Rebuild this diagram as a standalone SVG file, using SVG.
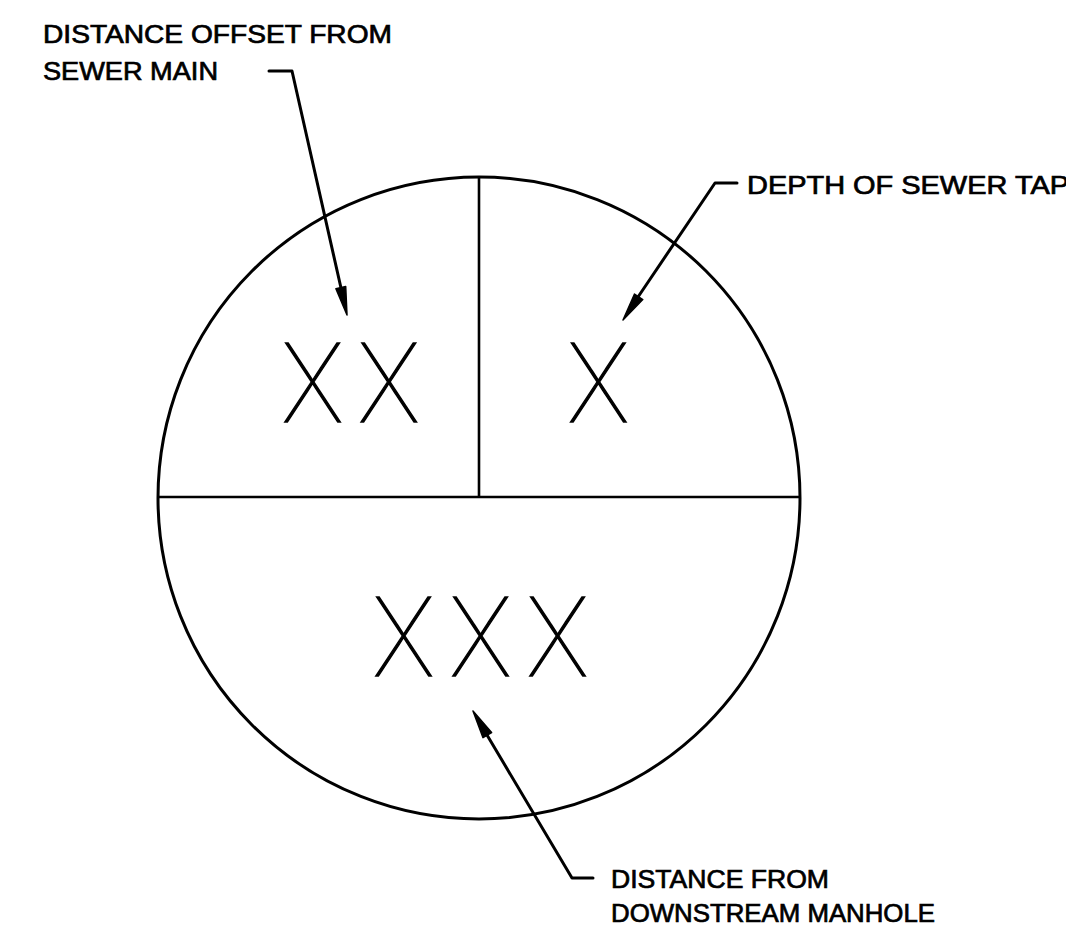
<svg xmlns="http://www.w3.org/2000/svg" width="1066" height="934" viewBox="0 0 1066 934">
<style>
.bg{fill:#fff}
.ln{fill:none;stroke:#000;stroke-width:3;stroke-linecap:round;stroke-linejoin:round}
.dv{fill:none;stroke:#000;stroke-width:2.6}
.ah{fill:#000;stroke:#000;stroke-width:1.5;stroke-linejoin:round}
.lbl{font-family:"Liberation Sans",Arial,sans-serif;font-size:25px;fill:#000;stroke:#000;stroke-width:0.7}
.xx{font-family:Inter,Roboto,Lato,"Liberation Sans",sans-serif;font-weight:100;font-size:109px;fill:#000;stroke:#000;stroke-width:1.4;text-anchor:middle}
</style>
<rect class="bg" x="0" y="0" width="1066" height="934"/>
<g id="symbol">
<circle class="ln" cx="479" cy="498" r="321"/>
<line class="dv" x1="158" y1="497" x2="800" y2="497"/>
<line class="dv" x1="479" y1="177" x2="479" y2="497"/>
</g>
<g id="offset-value"><text class="xx" transform="scale(0.92,1)" x="339.7 422.8" y="422">XX</text></g>
<g id="depth-value"><text class="xx" transform="scale(0.92,1)" x="650.5" y="422">X</text></g>
<g id="distance-value"><text class="xx" transform="scale(0.92,1)" x="438.6 522.3 606" y="676">XXX</text></g>
<g id="label-offset">
<text class="lbl" x="43" y="43" textLength="349" lengthAdjust="spacingAndGlyphs">DISTANCE OFFSET FROM</text>
<text class="lbl" x="43" y="80" textLength="175" lengthAdjust="spacingAndGlyphs">SEWER MAIN</text>
</g>
<g id="label-depth">
<text class="lbl" x="747" y="194" textLength="322" lengthAdjust="spacingAndGlyphs">DEPTH OF SEWER TAP</text>
</g>
<g id="label-distance">
<text class="lbl" x="611" y="888" textLength="218" lengthAdjust="spacingAndGlyphs">DISTANCE FROM</text>
<text class="lbl" x="611" y="922" textLength="324" lengthAdjust="spacingAndGlyphs">DOWNSTREAM MANHOLE</text>
</g>
<g id="connectors">
<polyline class="ln" points="269,71 292,71 341,288"/>
<polygon class="ah" points="347,315 345.7,286.6 335.9,288.8"/>
<polyline class="ln" points="737,183 715,183 638,297"/>
<polygon class="ah" points="623,320 642.8,299.6 634.5,294"/>
<polyline class="ln" points="593,878 572,878 487,735"/>
<polygon class="ah" points="473,711 491.6,732.6 483,737.7"/>
</g>
</svg>
